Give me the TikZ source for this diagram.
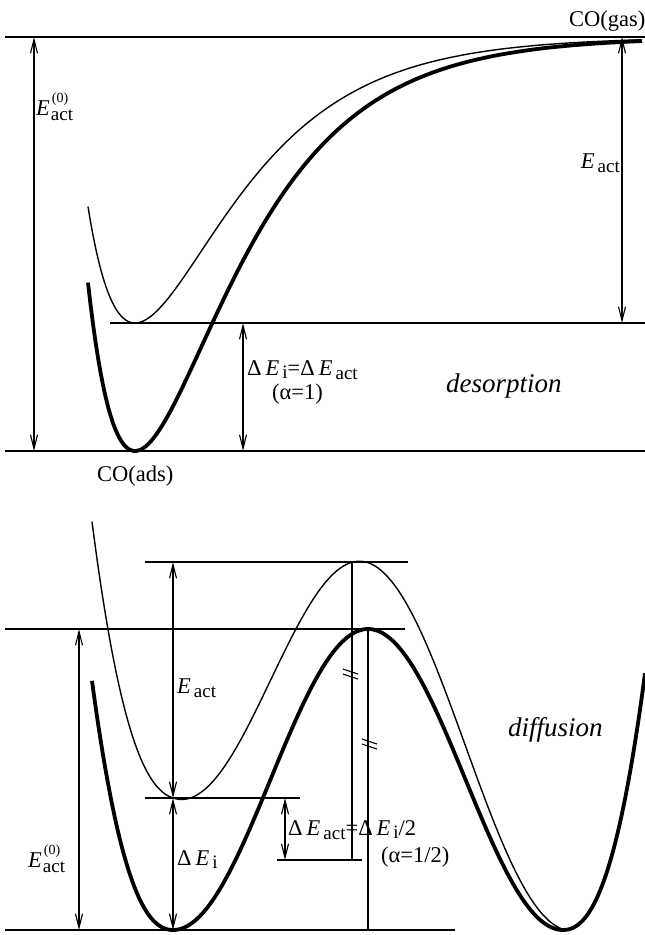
\documentclass[tikz,border=0pt]{standalone}
\usepackage{fontspec}
\setmainfont{Liberation Serif}
\usetikzlibrary{arrows.meta}
\newcommand\subsz{\fontsize{19}{19}\selectfont}
\newcommand\supsz{\fontsize{14}{14}\selectfont}
\newcommand\Eact{\textit{E}\hspace{3pt}\raisebox{-4pt}{\subsz act}}
\newcommand\Ezero{\textit{E}\hspace{1pt}\makebox[0pt][l]{\hspace{1pt}\raisebox{13pt}{\supsz(0)}}\raisebox{-5pt}{\subsz act}}
\newcommand\Ei{\textit{E}\hspace{3pt}\raisebox{-3pt}{\subsz i}}
\tikzset{
  level/.style={line width=1.2pt},
  dimarrow/.style={line width=1.1pt,{Straight Barb[length=14pt,width=7pt]}-{Straight Barb[length=14pt,width=7pt]}},
  thinpot/.style={line width=1.4pt},
  thickpot/.style={line width=3.8pt},
  lbl/.style={inner sep=0pt,font=\fontsize{22.5}{26}\selectfont},
  itl/.style={inner sep=0pt,font=\fontsize{27}{30}\selectfont\itshape},
  brk/.style={line width=1.1pt}
}
\begin{document}
\begin{tikzpicture}[x=1pt,y=-1pt,
  declare function={
    morse(\x)=(1-exp(-0.0105*(\x-135)))^2;
    wall(\x)=0.26*(max(173-\x,0)/10)^3+0.26*(max(\x-563,0)/10)^3;
    thickB(\x)=779.5+150.5*cos(0.923077*(\x-173))-wall(\x);
    thinB(\x)=thickB(\x)-0.336735*max(565-\x,0);
  }]
\useasboundingbox (0,0) rectangle (645,935);

% ---------- top: desorption ----------
\coordinate (Ttop0) at (5,37);   \coordinate (Ttop1) at (645,37);
\coordinate (Tmid0) at (110,323); \coordinate (Tmid1) at (645,323);
\coordinate (Tbot0) at (5,451);  \coordinate (Tbot1) at (645,451);
\draw[level] (Ttop0) -- (Ttop1);
\draw[level] (Tmid0) -- (Tmid1);
\draw[level] (Tbot0) -- (Tbot1);

\draw[thinpot] plot[domain=88:642,samples=220] (\x,{323-286*morse(\x)});
\draw[thickpot] plot[domain=88:642,samples=220] (\x,{451-414*morse(\x)});

\coordinate (A1a) at (34,37);  \coordinate (A1b) at (34,451);
\coordinate (A2a) at (622,37); \coordinate (A2b) at (622,323);
\coordinate (A3a) at (243,323); \coordinate (A3b) at (243,451);
\draw[dimarrow] (A1a) -- (A1b);
\draw[dimarrow] (A2a) -- (A2b);
\draw[dimarrow] (A3a) -- (A3b);

\node[lbl,anchor=base west] (gas) at (569,26) {CO(gas)};
\node[lbl,anchor=base west] (e0top) at (36,115) {\Ezero};
\node[lbl,anchor=base east] (eacttop) at (620,168) {\Eact};
\node[lbl,anchor=base west] (dei) at (247,375) {Δ\hspace{4pt}\Ei=Δ\hspace{4pt}\Eact};
\node[lbl,anchor=base west] (alpha1) at (272,399) {(α=1)};
\node[itl,anchor=base west] (desorp) at (446,392) {desorption};
\node[lbl,anchor=base west] (ads) at (97,481) {CO(ads)};

% ---------- bottom: diffusion ----------
\coordinate (L1a) at (145,562); \coordinate (L1b) at (408,562);
\coordinate (L2a) at (5,629);   \coordinate (L2b) at (405,629);
\coordinate (L3a) at (145,798); \coordinate (L3b) at (300,798);
\coordinate (L4a) at (277,860); \coordinate (L4b) at (362,860);
\coordinate (L5a) at (5,930);   \coordinate (L5b) at (455,930);
\draw[level] (L1a) -- (L1b);
\draw[level] (L2a) -- (L2b);
\draw[level] (L3a) -- (L3b);
\draw[level] (L4a) -- (L4b);
\draw[level] (L5a) -- (L5b);

\coordinate (V1a) at (352,562); \coordinate (V1b) at (352,860);
\coordinate (V2a) at (368,629); \coordinate (V2b) at (368,930);
\draw[level] (V1a) -- (V1b);
\draw[level] (V2a) -- (V2b);
% break marks
\coordinate (B1) at (351,674);
\coordinate (B2) at (370,744);
\foreach \c in {B1,B2}{
  \draw[brk] ([shift={(-8,-5)}]\c) -- ([shift={(7,0)}]\c);
  \draw[brk] ([shift={(-8,0)}]\c) -- ([shift={(7,5)}]\c);
}

\draw[thinpot] plot[domain=92:645,samples=260] (\x,{thinB(\x)});
\draw[thickpot] plot[domain=92:645,samples=260] (\x,{thickB(\x)});

\coordinate (D1a) at (79,629);  \coordinate (D1b) at (79,930);
\coordinate (D2a) at (173,562); \coordinate (D2b) at (173,798);
\coordinate (D3a) at (173,798); \coordinate (D3b) at (173,930);
\coordinate (D4a) at (285,798); \coordinate (D4b) at (285,860);
\draw[dimarrow] (D1a) -- (D1b);
\draw[dimarrow] (D2a) -- (D2b);
\draw[dimarrow] (D3a) -- (D3b);
\draw[dimarrow] (D4a) -- (D4b);

\node[lbl,anchor=base west] (e0bot) at (28,867) {\Ezero};
\node[lbl,anchor=base west] (eactbot) at (177,693) {\Eact};
\node[lbl,anchor=base west] (deibot) at (177,865) {Δ\hspace{4pt}\Ei};
\node[lbl,anchor=base west] (deact) at (288,835) {Δ\hspace{4pt}\Eact=Δ\hspace{4pt}\Ei/2};
\node[lbl,anchor=base west] (alpha2) at (381,862) {(α=1/2)};
\node[itl,anchor=base west] (diff) at (508,736) {diffusion};
\end{tikzpicture}
\end{document}
